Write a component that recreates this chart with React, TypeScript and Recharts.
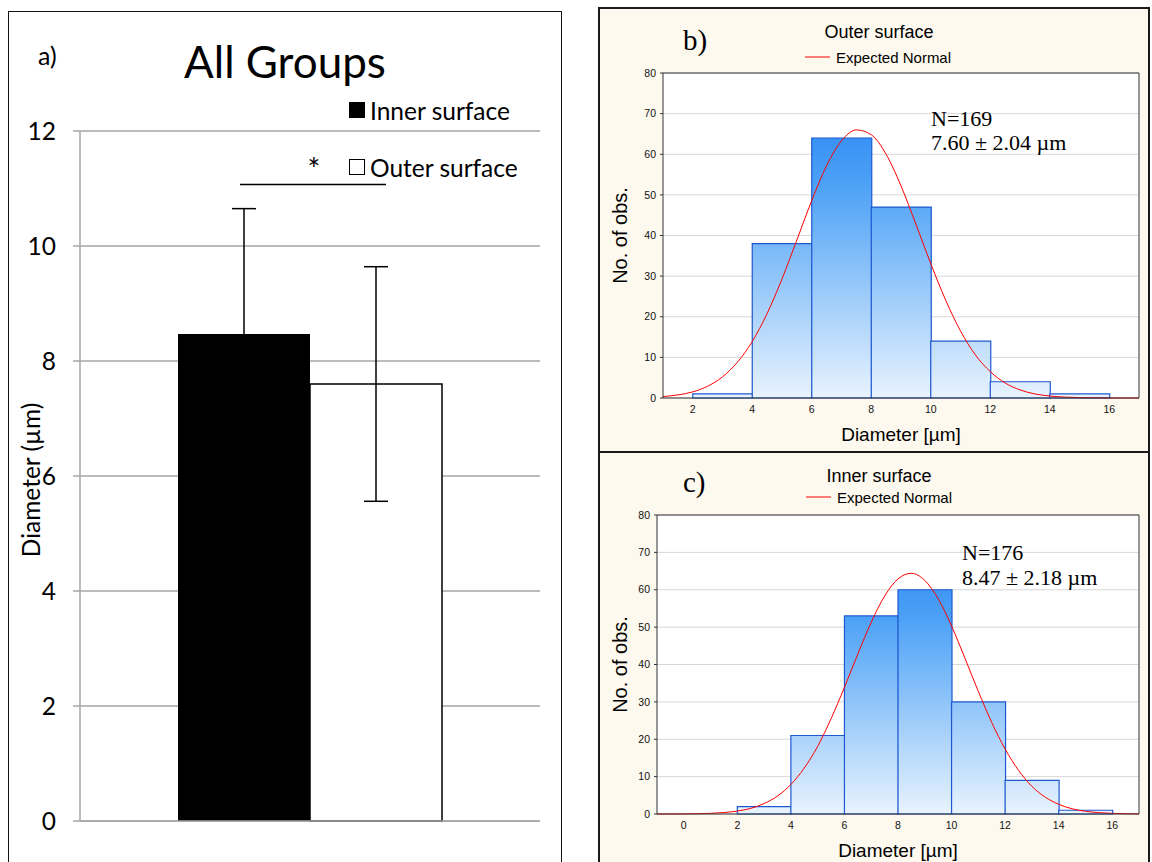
import React from 'react';
import {
  BarChart,
  Bar,
  XAxis,
  YAxis,
  CartesianGrid,
  ErrorBar,
  LabelList,
  Legend,
  ComposedChart,
  Line,
} from 'recharts';

// ---------- Panel a data ----------
const groupCategories = ['All Groups'];
const innerMean = [8.47];
const innerSD = [2.18];
const outerMean = [7.6];
const outerSD = [2.04];
const diameterTicks = [0, 2, 4, 6, 8, 10, 12];
const SIG_LEVEL = 11.07;

// ---------- Histogram data ----------
const binCenters = [3, 5, 7, 9, 11, 13, 15];
const outerCounts = [1, 38, 64, 47, 14, 4, 1];
const innerCounts = [2, 21, 53, 60, 30, 9, 1];
const outerTicks = [2, 4, 6, 8, 10, 12, 14, 16];
const innerTicks = [0, 2, 4, 6, 8, 10, 12, 14, 16];
const countTicks = [0, 10, 20, 30, 40, 50, 60, 70, 80];

// Expected Normal curve
const outerCurveX = [1, 1.5, 2, 2.5, 3, 3.5, 4, 4.5, 5, 5.5, 6, 6.5, 7, 7.5, 8, 8.5, 9, 9.5, 10, 10.5, 11, 11.5, 12, 12.5, 13, 13.5, 14, 14.5, 15, 15.5, 16, 16.5, 17];
const outerCurveY = [0.35, 0.76, 1.5, 2.9, 5.2, 8.8, 13.9, 20.8, 29.3, 38.9, 48.6, 57.2, 63.3, 66.0, 64.8, 60.0, 52.2, 42.8, 33.1, 24.1, 16.5, 10.6, 6.5, 3.7, 2.0, 1.0, 0.5, 0.22, 0.1, 0.04, 0.01, 0, 0];
const innerCurveX = [-1, -0.5, 0, 0.5, 1, 1.5, 2, 2.5, 3, 3.5, 4, 4.5, 5, 5.5, 6, 6.5, 7, 7.5, 8, 8.5, 9, 9.5, 10, 10.5, 11, 11.5, 12, 12.5, 13, 13.5, 14, 14.5, 15, 15.5, 16, 16.5, 17];
const innerCurveY = [0, 0.01, 0.03, 0.08, 0.18, 0.39, 0.79, 1.5, 2.8, 4.8, 7.9, 12.3, 18.1, 25.5, 33.9, 42.8, 51.3, 58.3, 62.9, 64.4, 62.5, 57.6, 50.3, 41.7, 32.8, 24.5, 17.4, 11.7, 7.4, 4.5, 2.6, 1.4, 0.73, 0.36, 0.17, 0.07, 0.03];

const LATO = 'Lato, "Open Sans", sans-serif';
const ARIAL = '"Liberation Sans", Arial, sans-serif';
const SERIF = '"Liberation Serif", "DejaVu Serif", serif';

const aData = groupCategories.map((name, i) => ({
  name,
  inner: innerMean[i],
  innerErr: innerSD[i],
  outer: outerMean[i],
  outerErr: outerSD[i],
}));

type TxtProps = { x: number; y: number; size: number; family: string; center?: boolean; children: React.ReactNode };
const Txt = ({ x, y, size, family, center, children }: TxtProps) => (
  <div
    style={{
      position: 'absolute',
      left: x,
      top: y,
      transform: `translate(${center ? '-50%' : '0'}, -50%)`,
      fontSize: size,
      fontFamily: family,
      lineHeight: 1,
      whiteSpace: 'nowrap',
      color: '#000',
    }}
  >
    {children}
  </div>
);

const SigBracket = (props: any) => {
  const vb = props.viewBox || props;
  const { x, y, width, height } = vb;
  const value = Number(props.value);
  if (!value || !height) return null;
  const bottom = y + height;
  const ppu = height / value;
  const sy = bottom - SIG_LEVEL * ppu;
  const x1 = x + width / 2 - 4;
  const x2 = x + width * 1.5 + 10;
  return (
    <g>
      <line x1={x1} x2={x2} y1={sy} y2={sy} stroke="#000" strokeWidth={1.5} />
      <text x={x + width + 4} y={sy - 4} textAnchor="middle" fontSize={30} fontFamily={LATO} fill="#000">
        *
      </text>
    </g>
  );
};

const YLabelA = (props: any) => {
  const { x, y, height } = props.viewBox;
  const cx = x + 22;
  const cy = y + height / 2 + 4;
  return (
    <text
      x={cx}
      y={cy}
      transform={`rotate(-90 ${cx} ${cy})`}
      textAnchor="middle"
      dominantBaseline="central"
      fontSize={24.5}
      fontFamily={LATO}
      fill="#000"
    >
      Diameter (µm)
    </text>
  );
};

const LegendA = (props: any) => {
  const payload = (props.payload || []).filter((p: any) => p.type !== 'none');
  return (
    <div style={{ fontFamily: LATO, fontSize: 24.5, color: '#000' }}>
      {payload.map((p: any, i: number) => (
        <div key={i} style={{ display: 'flex', alignItems: 'center', height: 28, marginBottom: i === 0 ? 29 : 0 }}>
          <span
            style={{
              display: 'inline-block',
              width: 16,
              height: 16,
              background: p.color,
              border: '1.5px solid #000',
              boxSizing: 'border-box',
              marginRight: 5,
            }}
          />
          <span>{p.value}</span>
        </div>
      ))}
    </div>
  );
};

const PanelA = () => (
  <BarChart
    width={553}
    height={850}
    data={aData}
    margin={{ top: 119, right: 21, bottom: 0, left: 0 }}
    barGap={0}
    barSize={132}
  >
    <CartesianGrid vertical={false} stroke="#a6a6a6" strokeWidth={1.5} />
    <XAxis
      dataKey="name"
      type="category"
      height={41}
      tick={false}
      tickLine={false}
      axisLine={{ stroke: '#a6a6a6', strokeWidth: 1.5 }}
    />
    <YAxis
      type="number"
      domain={[0, 12]}
      ticks={diameterTicks}
      width={72}
      tickSize={7}
      tickMargin={17}
      tickLine={{ stroke: '#a6a6a6', strokeWidth: 1.5 }}
      axisLine={{ stroke: '#a6a6a6', strokeWidth: 1.5 }}
      tick={{ fontSize: 24.5, fill: '#000', fontFamily: LATO }}
      label={YLabelA}
    />
    <Bar dataKey="inner" name="Inner surface" fill="#000" isAnimationActive={false}>
      <ErrorBar dataKey="innerErr" width={12} stroke="#000" strokeWidth={1.5} direction="y" />
      <LabelList dataKey="inner" content={SigBracket} />
    </Bar>
    <Bar dataKey="outer" name="Outer surface" fill="#fff" stroke="#000" strokeWidth={1.5} isAnimationActive={false}>
      <ErrorBar dataKey="outerErr" width={12} stroke="#000" strokeWidth={1.5} direction="y" />
    </Bar>
    <Legend
      layout="horizontal"
      verticalAlign="middle"
      align="center"
      content={LegendA}
      wrapperStyle={{ left: 341, top: 84, width: 'auto', height: 'auto' }}
    />
  </BarChart>
);

const YLabelHist = (props: any) => {
  const { x, y, height } = props.viewBox;
  const cx = x + 20;
  const cy = y + height / 2;
  return (
    <text
      x={cx}
      y={cy}
      transform={`rotate(-90 ${cx} ${cy})`}
      textAnchor="middle"
      dominantBaseline="central"
      fontSize={20}
      fontFamily={ARIAL}
      fill="#000"
    >
      No. of obs.
    </text>
  );
};

const XLabelHist = (props: any) => {
  const { x, y, width } = props.viewBox;
  return (
    <text x={x + width / 2} y={y + 43} textAnchor="middle" fontSize={19} fontFamily={ARIAL} fill="#000">
      Diameter [µm]
    </text>
  );
};

const LegendHist = (props: any) => {
  const payload = (props.payload || []).filter((p: any) => p.type !== 'none');
  return (
    <div style={{ fontFamily: ARIAL, fontSize: 15, color: '#000' }}>
      {payload.map((p: any, i: number) => (
        <div key={i} style={{ display: 'flex', alignItems: 'center', height: 18 }}>
          <svg width={25} height={4} style={{ marginRight: 6 }}>
            <line x1={0} x2={25} y1={2} y2={2} stroke={p.color} strokeWidth={1} />
          </svg>
          <span>{p.value}</span>
        </div>
      ))}
    </div>
  );
};

type HistProps = {
  width: number;
  height: number;
  top: number;
  yAxisW: number;
  xAxisH: number;
  counts: number[];
  curveX: number[];
  curveY: number[];
  domain: [number, number];
  ticks: number[];
  gradId: string;
  legendLeft: number;
  legendTop: number;
};

const HistChart = (p: HistProps) => {
  const barData = binCenters.map((c, i) => ({ center: c, count: p.counts[i] }));
  const curveData = p.curveX.map((x, i) => ({ x, y: p.curveY[i] }));
  return (
    <ComposedChart
      width={p.width}
      height={p.height}
      data={barData}
      margin={{ top: p.top, right: 9, bottom: 0, left: 0 }}
      barCategoryGap={0}
      barGap={0}
    >
      <defs>
        <linearGradient id={p.gradId} gradientUnits="userSpaceOnUse" x1="0" y1={p.top} x2="0" y2={p.height - p.xAxisH}>
          <stop offset="0%" stopColor="#1a7ef2" />
          <stop offset="35%" stopColor="#4ea2f6" />
          <stop offset="100%" stopColor="#e8f3fe" />
        </linearGradient>
      </defs>
      <CartesianGrid vertical={false} stroke="#d8d8d8" fill="#ffffff" />
      <XAxis
        dataKey="center"
        type="number"
        domain={p.domain}
        allowDataOverflow
        ticks={p.ticks}
        height={p.xAxisH}
        tickLine={false}
        tickSize={3}
        tickMargin={5}
        axisLine={{ stroke: '#333' }}
        tick={{ fontSize: 10.5, fill: '#111', fontFamily: ARIAL }}
        label={XLabelHist}
      />
      <XAxis
        xAxisId="curve"
        dataKey="x"
        type="number"
        orientation="top"
        mirror
        domain={p.domain}
        allowDataOverflow
        ticks={p.ticks}
        tick={false}
        tickSize={4}
        axisLine={{ stroke: '#333' }}
        tickLine={{ stroke: '#333' }}
      />
      <YAxis
        type="number"
        domain={[0, 80]}
        ticks={countTicks}
        width={p.yAxisW}
        tickSize={3}
        tickMargin={4}
        axisLine={{ stroke: '#333' }}
        tickLine={{ stroke: '#333' }}
        tick={{ fontSize: 10.5, fill: '#111', fontFamily: ARIAL }}
        label={YLabelHist}
      />
      <YAxis
        yAxisId="right"
        orientation="right"
        mirror
        type="number"
        domain={[0, 80]}
        ticks={countTicks}
        tick={false}
        tickSize={3}
        axisLine={{ stroke: '#333' }}
        tickLine={{ stroke: '#333' }}
      />
      <Bar
        dataKey="count"
        fill={`url(#${p.gradId})`}
        stroke="#1d58d0"
        strokeWidth={1.2}
        isAnimationActive={false}
        legendType="none"
      />
      <Line
        xAxisId="curve"
        data={curveData}
        dataKey="y"
        type="monotone"
        stroke="#ff0000"
        strokeWidth={1}
        dot={false}
        isAnimationActive={false}
        name="Expected Normal"
        legendType="plainline"
      />
      <Legend
        layout="horizontal"
        verticalAlign="middle"
        align="center"
        content={LegendHist}
        wrapperStyle={{ left: p.legendLeft, top: p.legendTop, width: 'auto', height: 'auto' }}
      />
    </ComposedChart>
  );
};

const CREAM = '#fdf9ee';

export default function App() {
  return (
    <div
      style={{
        position: 'absolute',
        left: 0,
        top: 0,
        width: 1152,
        height: 862,
        overflow: 'hidden',
        background: '#fff',
      }}
    >
      {/* Panel a */}
      <div style={{ position: 'absolute', left: 8, top: 12 }}>
        <PanelA />
      </div>
      <div
        style={{
          position: 'absolute',
          left: 8,
          top: 11,
          width: 554,
          height: 880,
          border: '1.5px solid #111',
          boxSizing: 'border-box',
          pointerEvents: 'none',
        }}
      />
      <Txt x={38} y={55} size={25} family={LATO}>a)</Txt>
      <Txt x={285} y={61} size={44} family={LATO} center>All Groups</Txt>

      {/* Panel b */}
      <div
        style={{
          position: 'absolute',
          left: 598,
          top: 7,
          width: 552,
          height: 446,
          background: CREAM,
          border: '2px solid #1a1a1a',
          boxSizing: 'border-box',
        }}
      />
      <div style={{ position: 'absolute', left: 600, top: 9 }}>
        <HistChart
          width={548}
          height={442}
          top={64}
          yAxisW={63}
          xAxisH={53}
          counts={outerCounts}
          curveX={outerCurveX}
          curveY={outerCurveY}
          domain={[1, 17]}
          ticks={outerTicks}
          gradId="gradOuter"
          legendLeft={205}
          legendTop={39}
        />
      </div>
      <Txt x={683} y={40} size={29} family={SERIF}>b)</Txt>
      <Txt x={879} y={32} size={18} family={ARIAL} center>Outer surface</Txt>
      <Txt x={931} y={119} size={22} family={SERIF}>N=169</Txt>
      <Txt x={931} y={143} size={22} family={SERIF}>7.60 ± 2.04 µm</Txt>

      {/* Panel c */}
      <div
        style={{
          position: 'absolute',
          left: 598,
          top: 451,
          width: 552,
          height: 430,
          background: CREAM,
          border: '2px solid #1a1a1a',
          boxSizing: 'border-box',
        }}
      />
      <div style={{ position: 'absolute', left: 600, top: 453 }}>
        <HistChart
          width={548}
          height={409}
          top={62}
          yAxisW={57}
          xAxisH={48}
          counts={innerCounts}
          curveX={innerCurveX}
          curveY={innerCurveY}
          domain={[-1, 17]}
          ticks={innerTicks}
          gradId="gradInner"
          legendLeft={206}
          legendTop={35}
        />
      </div>
      <Txt x={683} y={482} size={29} family={SERIF}>c)</Txt>
      <Txt x={879} y={476} size={18} family={ARIAL} center>Inner surface</Txt>
      <Txt x={962} y={553} size={22} family={SERIF}>N=176</Txt>
      <Txt x={962} y={578} size={22} family={SERIF}>8.47 ± 2.18 µm</Txt>
    </div>
  );
}
